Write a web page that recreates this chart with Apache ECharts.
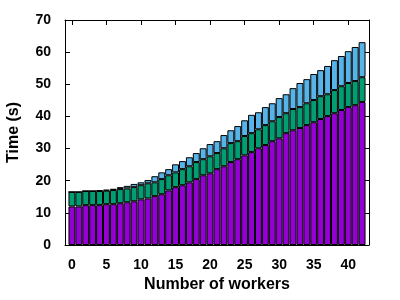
<!DOCTYPE html>
<html>
<head>
<meta charset="utf-8">
<script src="https://cdn.jsdelivr.net/npm/echarts@6/dist/echarts.min.js"></script>
<style>html,body{margin:0;padding:0;background:#fff}#c{width:400px;height:300px}</style>
</head>
<body>
<div id="c"></div>
<script>
var workers = [0,1,2,3,4,5,6,7,8,9,10,11,12,13,14,15,16,17,18,19,20,21,22,23,24,25,26,27,28,29,30,31,32,33,34,35,36,37,38,39,40,41,42];
var partA = [12.0,12.0,12.4,12.4,12.4,12.7,12.7,13.0,13.3,13.6,14.2,14.5,15.2,15.8,17.0,18.0,18.6,19.5,20.5,21.7,22.3,23.6,24.5,25.8,26.7,27.9,28.9,30.1,31.1,32.3,33.2,34.8,35.7,36.4,37.3,38.2,39.2,40.1,41.0,42.0,42.9,43.5,44.5];
var partB = [4.5,4.5,4.4,4.4,4.4,4.2,4.4,4.4,4.3,4.4,4.4,4.7,4.3,4.7,4.7,4.6,5.0,5.0,5.3,5.0,5.3,5.0,5.6,5.9,5.6,6.0,5.9,5.9,6.2,6.2,6.6,6.2,6.6,6.5,6.8,6.9,7.1,6.8,7.2,7.4,7.5,7.5,7.7];
var partC = [0,0,0,0,0.2,0.3,0.4,0.6,0.8,1.0,0.9,1.0,1.9,2.1,1.9,2.5,2.5,2.8,2.8,3.4,3.8,3.7,4.1,4.0,4.7,4.9,5.7,5.3,5.6,5.6,5.9,5.9,6.5,7.5,7.5,8.1,8.1,8.8,9.3,9.4,9.9,10.6,10.9];
var xTicks = [0,5,10,15,20,25,30,35,40];

var FONT = 'Liberation Sans';
var X_MIN = -1, X_MAX = 43;
var G = {left:65, right:31, top:20, bottom:55};
var plotW = 400 - G.left - G.right;
var unit = plotW / (X_MAX - X_MIN);
// the bar grid spans exactly the 43 category bands (from -0.5 to 42.5)
var pad = unit * ((workers[0] - 0.5) - X_MIN);
var padR = unit * (X_MAX - (workers[workers.length-1] + 0.5));

var labelStyle = {color:'#000', fontFamily:FONT, fontWeight:'bold', fontSize:14};
var nameStyle = {color:'#000', fontFamily:FONT, fontWeight:'bold', fontSize:16};
var chart = echarts.init(document.getElementById('c'), null, {renderer:'canvas'});
function barSeries(name, vals, color){
  return {name:name, type:'bar', stack:'t', xAxisIndex:2, yAxisIndex:2, barWidth:'100%',
    data:vals, itemStyle:{color:color, borderColor:'#000', borderWidth:1},
    emphasis:{disabled:true}, animation:false};
}
chart.setOption({
  animation:false,
  grid:[
    {left:G.left, right:G.right, top:G.top, bottom:G.bottom, outerBoundsMode:'none', containLabel:false},
    {left:G.left + pad, right:G.right + padR, top:G.top, bottom:G.bottom, outerBoundsMode:'none', containLabel:false}
  ],
  xAxis:[
    {type:'value', gridIndex:0, position:'bottom', min:X_MIN, max:X_MAX,
     name:'Number of workers', nameLocation:'middle', nameGap:32, nameTextStyle:nameStyle,
     axisLine:{show:true, onZero:false, lineStyle:{color:'#000', width:1}},
     axisTick:{show:true, inside:true, length:5, customValues:xTicks, lineStyle:{color:'#000'}},
     axisLabel:Object.assign({customValues:xTicks, margin:13}, labelStyle),
     splitLine:{show:false}},
    {type:'value', gridIndex:0, position:'top', min:X_MIN, max:X_MAX,
     axisLine:{show:true, onZero:false, lineStyle:{color:'#000', width:1}},
     axisTick:{show:true, inside:true, length:5, customValues:xTicks, lineStyle:{color:'#000'}},
     axisLabel:{show:false}, splitLine:{show:false}},
    {type:'category', gridIndex:1, data:workers, boundaryGap:true, show:false}
  ],
  yAxis:[
    {type:'value', gridIndex:0, position:'left', min:0, max:70, interval:10,
     name:'Time (s)', nameLocation:'middle', nameGap:43, nameTextStyle:nameStyle,
     axisLine:{show:true, onZero:false, lineStyle:{color:'#000', width:1}},
     axisTick:{show:true, inside:true, length:5, lineStyle:{color:'#000'}},
     axisLabel:Object.assign({margin:14}, labelStyle),
     splitLine:{show:false}},
    {type:'value', gridIndex:0, position:'right', min:0, max:70, interval:10,
     axisLine:{show:true, onZero:false, lineStyle:{color:'#000', width:1}},
     axisTick:{show:true, inside:true, length:5, lineStyle:{color:'#000'}},
     axisLabel:{show:false}, splitLine:{show:false}},
    {type:'value', gridIndex:1, min:0, max:70, show:false}
  ],
  series:[
    barSeries('A', partA, '#9400d3'),
    barSeries('B', partB, '#009e73'),
    barSeries('C', partC, '#56b4e9')
  ]
});
</script>
</body>
</html>
